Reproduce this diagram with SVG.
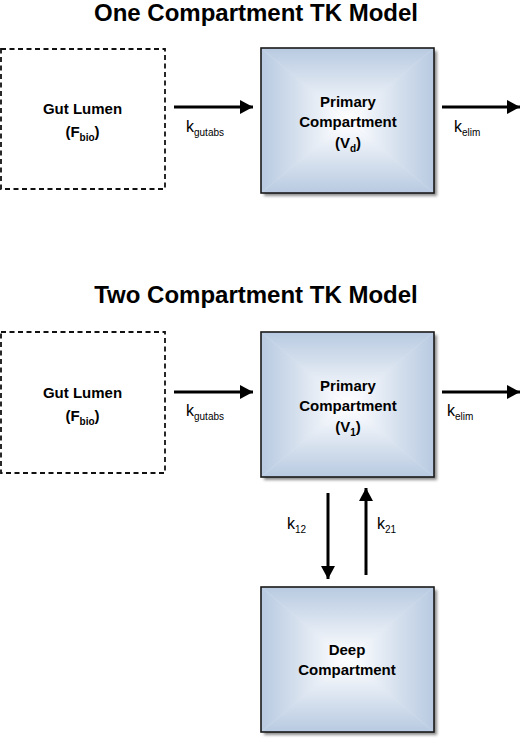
<svg xmlns="http://www.w3.org/2000/svg" width="520" height="743" viewBox="0 0 520 743">
<style>
  text { font-family: "Liberation Sans", Arial, sans-serif; fill: #000; }
  .title { font-size: 24px; font-weight: bold; text-anchor: middle; }
  .lbl { font-size: 15px; font-weight: bold; text-anchor: middle; }
  .k { font-size: 16px; }
  .sub { font-size: 10px; }
  .dash { fill: #fff; stroke: #111; stroke-width: 1.8; stroke-dasharray: 5 3.5; }
  .frame { fill: none; stroke: #1a1a1a; stroke-width: 1.6; }
  .base { fill: #dde6f1; }
  .arrow { stroke: #000; stroke-width: 3; fill: none; marker-end: url(#head); }
</style>
<defs>
  <marker id="head" markerUnits="userSpaceOnUse" markerWidth="14" markerHeight="14" refX="13" refY="7" orient="auto">
    <polygon points="0,0 13,7 0,14" fill="#000"/>
  </marker>
  <linearGradient id="gT" x1="0" y1="0" x2="0" y2="1">
    <stop offset="0" stop-color="#b8cae1"/><stop offset="0.4" stop-color="#d4dfed"/><stop offset="0.8" stop-color="#f3f6fb"/><stop offset="1" stop-color="#ffffff"/>
  </linearGradient>
  <linearGradient id="gB" x1="0" y1="1" x2="0" y2="0">
    <stop offset="0" stop-color="#b8cae1"/><stop offset="0.4" stop-color="#d4dfed"/><stop offset="0.8" stop-color="#f3f6fb"/><stop offset="1" stop-color="#ffffff"/>
  </linearGradient>
  <linearGradient id="gL" x1="0" y1="0" x2="1" y2="0">
    <stop offset="0" stop-color="#b8cae1"/><stop offset="0.4" stop-color="#d4dfed"/><stop offset="0.8" stop-color="#f3f6fb"/><stop offset="1" stop-color="#ffffff"/>
  </linearGradient>
  <linearGradient id="gR" x1="1" y1="0" x2="0" y2="0">
    <stop offset="0" stop-color="#b8cae1"/><stop offset="0.4" stop-color="#d4dfed"/><stop offset="0.8" stop-color="#f3f6fb"/><stop offset="1" stop-color="#ffffff"/>
  </linearGradient>
  <filter id="shadow" x="-10%" y="-10%" width="130%" height="130%">
    <feGaussianBlur stdDeviation="1.8"/>
  </filter>
</defs>

<rect width="520" height="743" fill="#fff"/>

<text class="title" x="256" y="21">One Compartment TK Model</text>
<text class="title" x="256" y="303">Two Compartment TK Model</text>

<g id="gut1">
  <rect class="dash" x="1" y="49" width="164" height="140"/>
  <text class="lbl" x="82.5" y="114">Gut Lumen</text>
  <text class="lbl" x="82.5" y="137">(F<tspan class="sub" dy="4">bio</tspan><tspan dy="-4">)</tspan></text>
</g>

<g id="primary1">
  <rect x="264" y="51" width="173" height="145" fill="#666" opacity="0.75" filter="url(#shadow)"/>
  <rect class="base" x="261" y="48" width="173" height="145"/>
  <polygon points="261,48 434,48 347.5,120.5" fill="url(#gT)"/>
  <polygon points="261,193 434,193 347.5,120.5" fill="url(#gB)"/>
  <polygon points="261,48 261,193 347.5,120.5" fill="url(#gL)"/>
  <polygon points="434,48 434,193 347.5,120.5" fill="url(#gR)"/>
  <rect class="frame" x="261" y="48" width="173" height="145"/>
  <text class="lbl" x="348" y="107">Primary</text>
  <text class="lbl" x="348" y="127">Compartment</text>
  <text class="lbl" x="348" y="148">(V<tspan class="sub" dy="4">d</tspan><tspan dy="-4">)</tspan></text>
</g>

<g id="gut2">
  <rect class="dash" x="1" y="332" width="164" height="141"/>
  <text class="lbl" x="82.5" y="398">Gut Lumen</text>
  <text class="lbl" x="82.5" y="421">(F<tspan class="sub" dy="4">bio</tspan><tspan dy="-4">)</tspan></text>
</g>

<g id="primary2">
  <rect x="264" y="335" width="173" height="145" fill="#666" opacity="0.75" filter="url(#shadow)"/>
  <rect class="base" x="261" y="332" width="173" height="145"/>
  <polygon points="261,332 434,332 347.5,404.5" fill="url(#gT)"/>
  <polygon points="261,477 434,477 347.5,404.5" fill="url(#gB)"/>
  <polygon points="261,332 261,477 347.5,404.5" fill="url(#gL)"/>
  <polygon points="434,332 434,477 347.5,404.5" fill="url(#gR)"/>
  <rect class="frame" x="261" y="332" width="173" height="145"/>
  <text class="lbl" x="348" y="391">Primary</text>
  <text class="lbl" x="348" y="411">Compartment</text>
  <text class="lbl" x="348" y="432">(V<tspan class="sub" dy="4">1</tspan><tspan dy="-4">)</tspan></text>
</g>

<g id="deep">
  <rect x="264" y="590" width="173" height="145" fill="#666" opacity="0.75" filter="url(#shadow)"/>
  <rect class="base" x="261" y="587" width="173" height="145"/>
  <polygon points="261,587 434,587 347.5,659.5" fill="url(#gT)"/>
  <polygon points="261,732 434,732 347.5,659.5" fill="url(#gB)"/>
  <polygon points="261,587 261,732 347.5,659.5" fill="url(#gL)"/>
  <polygon points="434,587 434,732 347.5,659.5" fill="url(#gR)"/>
  <rect class="frame" x="261" y="587" width="173" height="145"/>
  <text class="lbl" x="347" y="655">Deep</text>
  <text class="lbl" x="347" y="675">Compartment</text>
</g>

<g id="connectors">
  <line class="arrow" x1="174" y1="107" x2="253" y2="107"/>
  <line class="arrow" x1="442" y1="107" x2="520" y2="107"/>
  <line class="arrow" x1="174" y1="392" x2="253" y2="392"/>
  <line class="arrow" x1="442" y1="392" x2="520" y2="392"/>
  <line class="arrow" x1="328" y1="493" x2="328" y2="579"/>
  <line class="arrow" x1="366" y1="575" x2="366" y2="488"/>
</g>

<g id="labels">
  <text class="k" x="186" y="132">k<tspan class="sub" dy="4">gutabs</tspan></text>
  <text class="k" x="454" y="132">k<tspan class="sub" dy="4">elim</tspan></text>
  <text class="k" x="186" y="416">k<tspan class="sub" dy="4">gutabs</tspan></text>
  <text class="k" x="447" y="416">k<tspan class="sub" dy="4">elim</tspan></text>
  <text class="k" x="287" y="529">k<tspan class="sub" dy="4">12</tspan></text>
  <text class="k" x="377" y="529">k<tspan class="sub" dy="4">21</tspan></text>
</g>
</svg>
